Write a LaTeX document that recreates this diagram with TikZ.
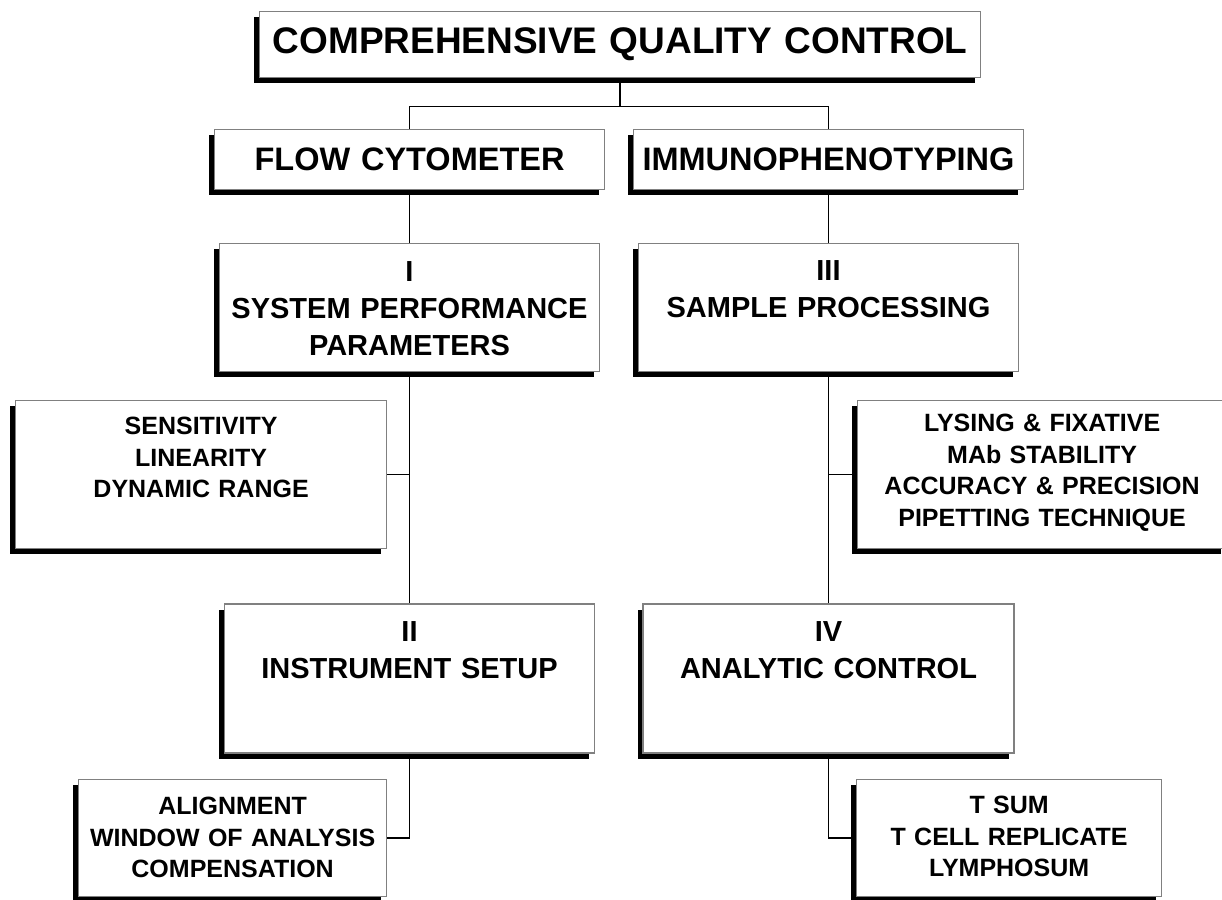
\documentclass[tikz,border=0pt]{standalone}
\usepackage{fontspec}
\setmainfont{Liberation Sans}
\usetikzlibrary{positioning,shadows}

\begin{document}
\begin{tikzpicture}[x=1pt, y=-1pt, align=center,
	box/.style = {draw=gray, line width=1.2pt, fill=white, inner sep=0pt, drop shadow={shadow xshift=-5.5pt, shadow yshift=-5.5pt, opacity=1, fill=black}},
	title/.style = {box, font=\bfseries\fontsize{37}{44}\selectfont},
	head/.style = {box, font=\bfseries\fontsize{32.5}{40}\selectfont, text width=390pt, text height=41pt, text depth=19pt},
	stage/.style = {box, font=\bfseries\fontsize{29}{37}\selectfont},
	detail/.style = {box, font=\bfseries\fontsize{25}{31.5}\selectfont},
	link/.style = {line width=1.4pt}]
	\useasboundingbox (0,0) rectangle (1222,899);
	\node[title, anchor=north west, text width=721pt, text height=42pt, text depth=24pt] (qc) at (259,11) {COMPREHENSIVE QUALITY CONTROL};
	\node[head, anchor=north] (flow) at (409.5,129) {FLOW CYTOMETER};
	\node[head, anchor=north] (immuno) at (828.5,129) {IMMUNOPHENOTYPING};
	\node[stage, below=53pt of flow, text width=380pt, text height=38pt, text depth=90pt] (sys) {I\\SYSTEM PERFORMANCE\\PARAMETERS};
	\node[stage, below=53pt of immuno, text width=380pt, text height=37pt, text depth=91pt] (samp) {III\\SAMPLE PROCESSING};
	\node[stage, below=231pt of sys, text width=370pt, text height=37pt, text depth=112pt] (inst) {II\\INSTRUMENT SETUP};
	\node[stage, below=231pt of samp, text width=371pt, text height=37pt, text depth=112pt] (anal) {IV\\ANALYTIC CONTROL};
	\node[detail, anchor=north west, text width=371pt, text height=34pt, text depth=114pt] (sens) at (15,400) {SENSITIVITY\\LINEARITY\\DYNAMIC RANGE};
	\node[detail, anchor=north west, text width=369pt, text height=31pt, text depth=117pt] (lys) at (857,400) {LYSING \& FIXATIVE\\MAb STABILITY\\ACCURACY \& PRECISION\\PIPETTING TECHNIQUE};
	\node[detail, anchor=north west, text width=308pt, text height=35pt, text depth=82pt] (align) at (78,779) {ALIGNMENT\\WINDOW OF ANALYSIS\\COMPENSATION};
	\node[detail, anchor=north west, text width=305pt, text height=34pt, text depth=83pt] (tsum) at (856,779) {T SUM\\T CELL REPLICATE\\LYMPHOSUM};
	\coordinate[below=28pt of qc.south] (split);
	\draw[link] (qc.south) -- (split);
	\draw[link] (flow.north) |- (split) -| (immuno.north);
	\draw[link] (flow.south) -- (sys.north);
	\draw[link] (immuno.south) -- (samp.north);
	\draw[link] (sys.south) -- (inst.north);
	\draw[link] (samp.south) -- (anal.north);
	\draw[link] (sens.east) -- (sens.east -| sys.south);
	\draw[link] (lys.west) -- (lys.west -| samp.south);
	\draw[link] (inst.south) |- (align.east);
	\draw[link] (anal.south) |- (tsum.west);
\end{tikzpicture}
\end{document}
